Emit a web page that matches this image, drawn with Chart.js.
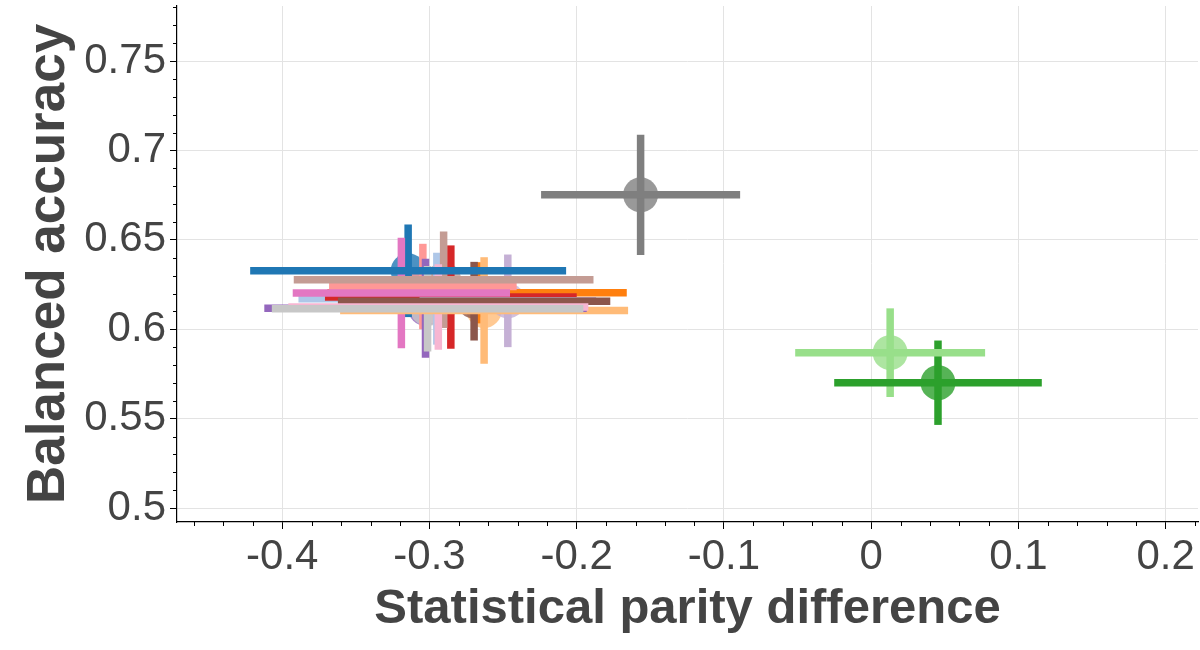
<!DOCTYPE html>
<html>
<head>
<meta charset="utf-8">
<script src="https://cdn.jsdelivr.net/npm/chart.js"></script>
<style>
  html, body { margin: 0; padding: 0; background: #fff; }
  #wrap { width: 1200px; height: 650px; position: relative; }
</style>
</head>
<body>
<div id="wrap"><canvas id="chart"></canvas></div>
<script>
// one model per colour (tab20 order), mean +/- std over the runs
const seriesColors = ['#1f77b4', '#aec7e8', '#ff7f0e', '#ffbb78', '#2ca02c', '#98df8a', '#d62728', '#ff9896',
                      '#9467bd', '#c5b0d5', '#8c564b', '#c49c94', '#e377c2', '#f7b6d2', '#7f7f7f', '#c7c7c7'];
const spdMean = [-0.3145, -0.2950, -0.2677, -0.2629, 0.0454, 0.0129, -0.2855, -0.3045,
                 -0.3027, -0.2468, -0.2697, -0.2904, -0.3191, -0.2940, -0.1566, -0.3013];
const spdErr  = [0.1073, 0.0940, 0.1017, 0.0978, 0.0705, 0.0645, 0.0855, 0.0637,
                 0.1095, 0.0600, 0.0925, 0.1018, 0.0738, 0.1019, 0.0676, 0.1058];
const accMean = [0.6327, 0.6171, 0.6204, 0.6105, 0.5701, 0.5869, 0.6180, 0.6239,
                 0.6117, 0.6159, 0.6157, 0.6277, 0.6203, 0.6124, 0.6752, 0.6115];
const accErr  = [0.0259, 0.0257, 0.0171, 0.0298, 0.0236, 0.0248, 0.0289, 0.0239,
                 0.0277, 0.0259, 0.0220, 0.0270, 0.0309, 0.0239, 0.0336, 0.0239];

const xTicks = [-0.4, -0.3, -0.2, -0.1, 0, 0.1, 0.2];
const yTicks = [0.5, 0.55, 0.6, 0.65, 0.7, 0.75];

const FONT = "'Liberation Sans', Arial, Helvetica, sans-serif";
const TEXT = '#444444';

function withAlpha(hex, a) {
    const n = parseInt(hex.slice(1), 16);
    return `rgba(${(n >> 16) & 255}, ${(n >> 8) & 255}, ${n & 255}, ${a})`;
}

// circles at the bottom, then every vertical bar, then every horizontal bar
const datasets = [];
seriesColors.forEach((col, i) => {
    datasets.push({
        data: [{ x: spdMean[i], y: accMean[i] }],
        backgroundColor: withAlpha(col, 0.8),
        borderWidth: 0,
        pointRadius: 17.5,
        pointHoverRadius: 17.5,
        order: 300 - i
    });
    datasets.push({
        data: [{ x: spdMean[i], y: accMean[i] - accErr[i] }, { x: spdMean[i], y: accMean[i] + accErr[i] }],
        showLine: true,
        borderColor: col,
        borderWidth: 7.5,
        borderCapStyle: 'butt',
        pointRadius: 0,
        order: 200 - i
    });
    datasets.push({
        data: [{ x: spdMean[i] - spdErr[i], y: accMean[i] }, { x: spdMean[i] + spdErr[i], y: accMean[i] }],
        showLine: true,
        borderColor: col,
        borderWidth: 7.5,
        borderCapStyle: 'butt',
        pointRadius: 0,
        order: 100 - i
    });
});

// small ticks between the labelled ones
const minorTicks = {
    id: 'minorTicks',
    afterDraw(chart) {
        const { ctx, scales: { x, y } } = chart;
        ctx.save();
        ctx.strokeStyle = '#000';
        ctx.lineWidth = 1;
        ctx.beginPath();
        for (let k = Math.ceil(x.min / 0.02); k * 0.02 <= x.max + 1e-9; k++) {
            if (k % 5 === 0) continue;
            const px = Math.round(x.getPixelForValue(k * 0.02)) + 0.5;
            ctx.moveTo(px, y.bottom);
            ctx.lineTo(px, y.bottom + 4);
        }
        for (let k = Math.ceil(y.min / 0.01); k * 0.01 <= y.max + 1e-9; k++) {
            if (k % 5 === 0) continue;
            const py = Math.round(y.getPixelForValue(k * 0.01)) + 0.5;
            ctx.moveTo(x.left, py);
            ctx.lineTo(x.left - 4, py);
        }
        ctx.stroke();
        ctx.restore();
    }
};

const fmt = v => String(Math.round(v * 100) / 100);

new Chart(document.getElementById('chart'), {
    type: 'scatter',
    data: { datasets },
    options: {
        responsive: true,
        maintainAspectRatio: false,
        animation: false,
        events: [],
        layout: { autoPadding: false, padding: { top: 6, right: 2, bottom: 0, left: 0 } },
        plugins: { legend: { display: false }, tooltip: { enabled: false } },
        scales: {
            x: {
                type: 'linear',
                min: -0.4715,
                max: 0.222,
                afterBuildTicks: s => { s.ticks = xTicks.map(v => ({ value: v })); },
                afterFit: s => { s.height = 128; s.paddingLeft = 0; s.paddingRight = 0; },
                ticks: { font: { family: FONT, size: 42 }, color: TEXT, padding: 3, maxRotation: 0, autoSkip: false, callback: fmt },
                grid: { color: '#e3e3e3', lineWidth: 1, tickColor: '#000', tickLength: 7, tickWidth: 1 },
                border: { color: '#000', width: 1.2 },
                title: {
                    display: true,
                    text: 'Statistical parity difference',
                    font: { family: FONT, size: 49, weight: 'bold' },
                    color: TEXT,
                    padding: { top: 0, bottom: 11 }
                }
            },
            y: {
                type: 'linear',
                min: 0.4922,
                max: 0.7808,
                afterBuildTicks: s => { s.ticks = yTicks.map(v => ({ value: v })); },
                afterFit: s => { s.width = 177; s.paddingTop = 0; s.paddingBottom = 0; },
                ticks: { font: { family: FONT, size: 42 }, color: TEXT, padding: 4, autoSkip: false, callback: fmt },
                grid: { color: '#e3e3e3', lineWidth: 1, tickColor: '#000', tickLength: 7, tickWidth: 1 },
                border: { color: '#000', width: 1.2 },
                title: {
                    display: true,
                    text: 'Balanced accuracy',
                    font: { family: FONT, size: 53, weight: 'bold' },
                    color: TEXT,
                    padding: { top: 18, bottom: 0 }
                }
            }
        }
    },
    plugins: [minorTicks]
});
</script>
</body>
</html>
